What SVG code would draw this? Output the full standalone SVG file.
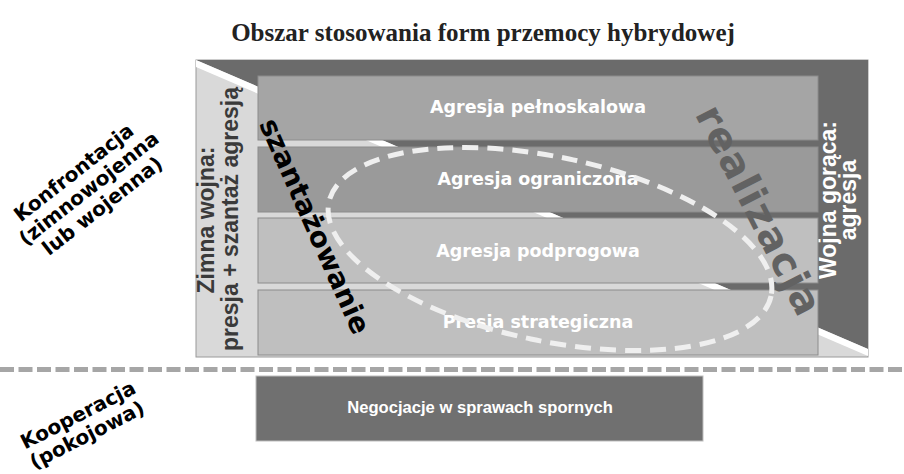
<svg xmlns="http://www.w3.org/2000/svg" width="904" height="474" viewBox="0 0 904 474">
<style>
.bar{stroke:#8c8c8c;stroke-width:1}
.blab{font-family:"DejaVu Sans",Verdana,sans-serif;font-weight:bold;font-size:17.5px;fill:#fff;text-anchor:middle}
.side{font-family:"DejaVu Sans",Verdana,sans-serif;font-weight:bold;font-size:20px;fill:#000;text-anchor:middle}
.col{font-family:"Liberation Sans",Arial,sans-serif;font-weight:bold;font-size:23px;text-anchor:middle}
</style>
<rect width="904" height="474" fill="#fff"/>
<text x="483" y="41" font-family="Liberation Serif,'Times New Roman',serif" font-weight="bold" font-size="25" fill="#222" text-anchor="middle">Obszar stosowania form przemocy hybrydowej</text>

<g id="background">
<rect x="196" y="60" width="672" height="297" fill="#d9d9d9" stroke="#9a9a9a" stroke-width="1"/>
<polygon points="196,60 868,60 868,349" fill="#6b6b6b"/>
<polygon points="196,60 868,349 868,356 196,67" fill="#fff"/>
</g>

<g id="zimna-wojna">
<text class="col" fill="#3a3a3a" transform="translate(214,220) rotate(-90)">Zimna wojna:</text>
<text class="col" fill="#3a3a3a" transform="translate(238,219) rotate(-90)">presja + szantaż agresją</text>
</g>

<g id="wojna-goraca">
<text class="col" fill="#fff" font-size="22.5" transform="translate(836,200) rotate(-90)">Wojna gorąca:</text>
<text class="col" fill="#fff" font-size="22.5" transform="translate(856,200) rotate(-90)">agresja</text>
</g>

<g id="agresja-pelnoskalowa">
<rect class="bar" x="258" y="76" width="560" height="64" fill="#a5a5a5"/>
<text class="blab" x="538" y="113">Agresja pełnoskalowa</text>
</g>
<g id="agresja-ograniczona">
<rect class="bar" x="258" y="147" width="560" height="65" fill="#9a9a9a"/>
<text class="blab" x="538" y="185">Agresja ograniczona</text>
</g>
<g id="agresja-podprogowa">
<rect class="bar" x="258" y="218" width="560" height="65" fill="#bfbfbf"/>
<text class="blab" x="538" y="257">Agresja podprogowa</text>
</g>
<g id="presja-strategiczna">
<rect class="bar" x="258" y="290" width="560" height="65" fill="#bfbfbf"/>
<text class="blab" x="538" y="328">Presja strategiczna</text>
</g>

<g id="realizacja">
<text x="0" y="0" font-family="DejaVu Sans,Verdana,sans-serif" font-weight="bold" font-size="40" letter-spacing="1.5" fill="#626262" text-anchor="middle" transform="translate(747,217) rotate(63)">realizacja</text>
</g>
<g id="szantazowanie">
<text x="0" y="0" font-family="DejaVu Sans,Verdana,sans-serif" font-weight="bold" font-size="28" fill="#000" text-anchor="middle" transform="translate(306,230) rotate(66)">szantażowanie</text>
</g>

<g id="ellipse">
<ellipse cx="550" cy="249" rx="226" ry="92" transform="rotate(12 550 249)" fill="none" stroke="#efefef" stroke-width="5" stroke-dasharray="16 9"/>
</g>

<g id="connectors">
<line x1="0" y1="369.5" x2="904" y2="369.5" stroke="#a6a6a6" stroke-width="5" stroke-dasharray="14 4.5"/>
</g>

<g id="negocjacje">
<rect x="256" y="376" width="447" height="65" fill="#707070" stroke="#bdbdbd" stroke-width="1"/>
<text x="480" y="413" font-family="Liberation Sans,Arial,sans-serif" font-weight="bold" font-size="16.6" fill="#fff" text-anchor="middle">Negocjacje w sprawach spornych</text>
</g>

<g id="konfrontacja" transform="translate(90,190) rotate(-38)">
<text class="side" x="-2" y="-17">Konfrontacja</text>
<text class="side" x="0" y="5">(zimnowojenna</text>
<text class="side" x="0" y="27">lub wojenna)</text>
</g>

<g id="kooperacja" transform="translate(82,425) rotate(-27)">
<text class="side" x="1" y="-4">Kooperacja</text>
<text class="side" x="0" y="18">(pokojowa)</text>
</g>
</svg>
